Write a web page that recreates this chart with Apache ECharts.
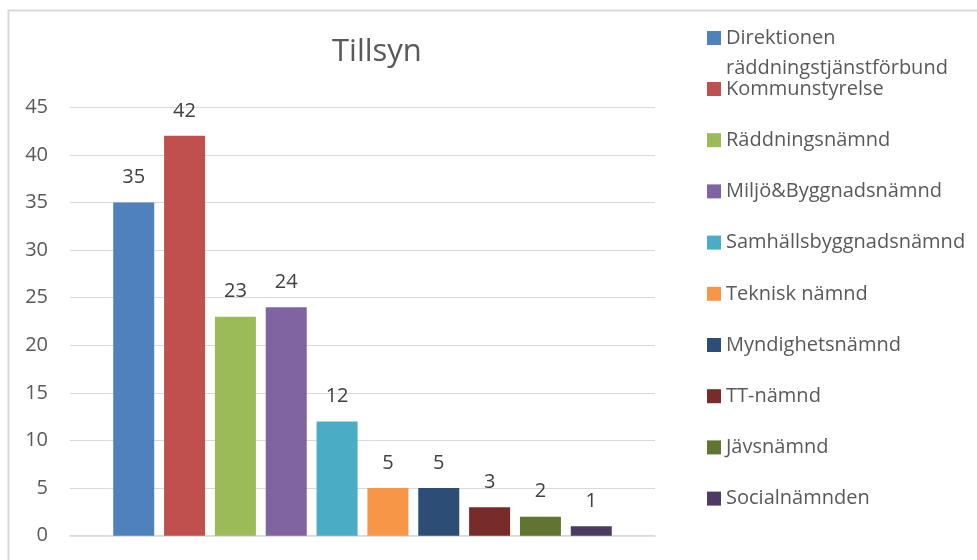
<!DOCTYPE html>
<html>
<head>
<meta charset="utf-8">
<script src="https://cdn.jsdelivr.net/npm/echarts@6/dist/echarts.min.js"></script>
<style>
html,body{margin:0;padding:0;background:#fff;}
#chart{width:977px;height:560px;}
</style>
</head>
<body>
<div id="chart"></div>
<script>
var chartTitle = 'Tillsyn';
var categories = ['Tillsyn'];
var seriesNames = ['Direktionen räddningstjänstförbund','Kommunstyrelse','Räddningsnämnd','Miljö&Byggnadsnämnd','Samhällsbyggnadsnämnd','Teknisk nämnd','Myndighetsnämnd','TT-nämnd','Jävsnämnd','Socialnämnden'];
var values = [35, 42, 23, 24, 12, 5, 5, 3, 2, 1];
var colors = ['#4F81BD','#C0504D','#9BBB59','#8064A2','#4BACC6','#F79646','#2C4D75','#772C2A','#5F7530','#4D3B62'];

var FONT = '"Open Sans", "Liberation Sans", sans-serif';
var chart = echarts.init(document.getElementById('chart'));

var series = seriesNames.map(function (n, i) {
  return {
    name: n,
    type: 'bar',
    data: [values[i]],
    barWidth: 41,
    barGap: '24%',
    itemStyle: { color: colors[i] },
    label: {
      show: true, position: 'top', distance: 15,
      color: '#404040', fontSize: 20, fontFamily: FONT
    }
  };
});

chart.setOption({
  animation: false,
  color: colors,
  title: {
    text: chartTitle,
    left: 332, top: 37, padding: 0,
    textStyle: { fontFamily: FONT, fontSize: 31, fontWeight: 'normal', color: '#595959' }
  },
  graphic: [{
    type: 'rect', left: 6, top: 8, silent: true,
    shape: { width: 1000, height: 600 },
    style: { fill: 'none', stroke: '#d9d9d9', lineWidth: 2 }
  }],
  legend: [{
    data: [seriesNames[0]],
    orient: 'vertical', left: 707, top: -7, padding: 0,
    itemWidth: 14, itemHeight: 14, itemGap: 0,
    icon: 'rect',
    formatter: function () { return '\nDirektionen\nräddningstjänstförbund'; },
    textStyle: { fontFamily: FONT, fontSize: 20, color: '#595959', lineHeight: 30 }
  }, {
    data: seriesNames.slice(1),
    orient: 'vertical', left: 707, top: 63.4, padding: 0,
    itemWidth: 14, itemHeight: 14, itemGap: 0,
    icon: 'rect',
    textStyle: { fontFamily: FONT, fontSize: 20, color: '#595959', lineHeight: 51.2 }
  }],
  grid: { left: 70, right: 322, top: 107.3, bottom: 24.3, containLabel: false },
  xAxis: {
    type: 'category', data: categories,
    axisLine: { show: true, lineStyle: { color: '#d9d9d9', width: 1.5 } },
    axisTick: { show: false }, axisLabel: { show: false }
  },
  yAxis: {
    type: 'value', min: 0, max: 45, interval: 5,
    axisLine: { show: false }, axisTick: { show: false },
    axisLabel: { color: '#595959', fontSize: 20, fontFamily: FONT, margin: 22 },
    splitLine: { lineStyle: { color: '#d9d9d9', width: 1.2 } }
  },
  series: series
});
</script>
</body>
</html>
